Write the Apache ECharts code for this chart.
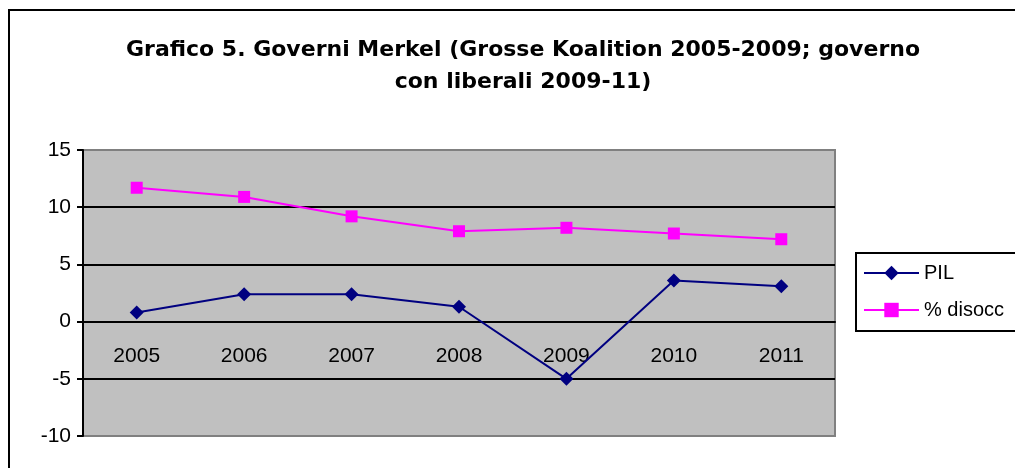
<!DOCTYPE html>
<html>
<head>
<meta charset="utf-8">
<script src="https://cdn.jsdelivr.net/npm/echarts@6/dist/echarts.min.js"></script>
<style>
  html, body { margin: 0; padding: 0; background: #fff; }
  #chart { width: 1015px; height: 468px; }
</style>
</head>
<body>
<div id="chart"></div>
<script>
// dati
var anni = ['2005', '2006', '2007', '2008', '2009', '2010', '2011'];
var pil = [0.8, 2.4, 2.4, 1.3, -5.0, 3.6, 3.1];
var disocc = [11.7, 10.9, 9.2, 7.9, 8.2, 7.7, 7.2];
var yTicks = [-10, -5, 0, 5, 10, 15];

var font = 'Liberation Sans, Arial, sans-serif';
var chart = echarts.init(document.getElementById('chart'));

// asse x sullo zero: lo zero sta a 15/25 dell'altezza dell'area (286px)
var plotH = 468 - 150 - 32;
var zeroOffset = -plotH * (0 - yTicks[0]) / (yTicks[yTicks.length - 1] - yTicks[0]);

chart.setOption({
  animation: false,
  textStyle: { fontFamily: font },
  title: {
    text: 'Grafico 5. Governi Merkel (Grosse Koalition 2005-2009; governo\ncon liberali 2009-11)',
    left: 518,
    textAlign: 'center',
    top: 29,
    textStyle: { fontSize: 22, fontWeight: 'bold', color: '#000', lineHeight: 32, fontFamily: 'DejaVu Sans, sans-serif' }
  },
  graphic: [{
    type: 'rect',
    shape: { x: 9, y: 10, width: 1100, height: 600 },
    style: { fill: 'none', stroke: '#000', lineWidth: 2 },
    z: -1
  }],
  grid: {
    left: 83, right: 180, top: 150, bottom: 32,
    outerBoundsMode: 'none',
    show: true, backgroundColor: '#C0C0C0',
    borderColor: '#808080', borderWidth: 2
  },
  legend: {
    orient: 'vertical',
    left: 856, top: 253,
    borderColor: '#000', borderWidth: 2,
    padding: [10, 12, 11, 7],
    itemWidth: 55, itemHeight: 18, itemGap: 17,
    textStyle: { fontSize: 20, color: '#000', fontFamily: font },
    data: ['PIL', '% disocc']
  },
  xAxis: {
    type: 'category',
    data: anni,
    offset: zeroOffset,
    axisLine: { onZero: false, lineStyle: { color: '#000', width: 2 } },
    axisTick: { length: 6, lineStyle: { color: '#000', width: 2 } },
    axisLabel: { fontSize: 21, color: '#000', margin: 24 }
  },
  yAxis: {
    type: 'value',
    min: yTicks[0], max: yTicks[yTicks.length - 1], interval: 5,
    axisLine: { show: true, lineStyle: { color: '#000', width: 2 } },
    axisTick: { show: true, length: 6, lineStyle: { color: '#000', width: 2 } },
    axisLabel: { fontSize: 21, color: '#000', margin: 12 },
    splitLine: { lineStyle: { color: ['#808080', '#000', '#000', '#000', '#000', '#808080'], width: 2 } }
  },
  series: [{
    name: 'PIL',
    type: 'line',
    data: pil,
    symbol: 'diamond',
    symbolSize: 14,
    itemStyle: { color: '#000080' },
    lineStyle: { color: '#000080', width: 2 }
  }, {
    name: '% disocc',
    type: 'line',
    data: disocc,
    symbol: 'rect',
    symbolSize: 12,
    itemStyle: { color: '#FF00FF' },
    lineStyle: { color: '#FF00FF', width: 2 }
  }]
});
</script>
</body>
</html>
